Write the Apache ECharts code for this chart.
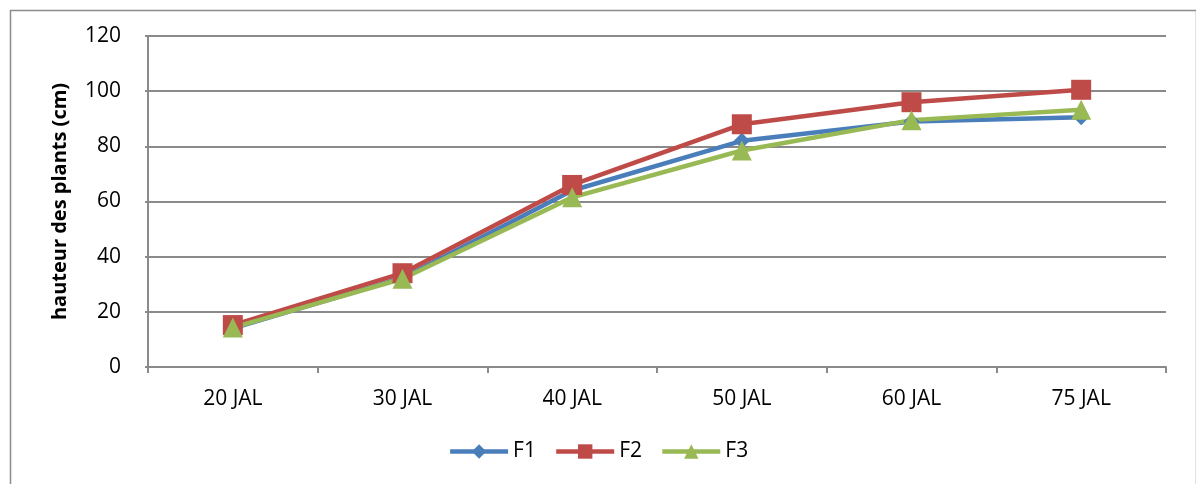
<!DOCTYPE html>
<html>
<head>
<meta charset="utf-8">
<script src="https://cdn.jsdelivr.net/npm/echarts@6/dist/echarts.min.js"></script>
<style>
  html, body { margin: 0; padding: 0; background: #fff; }
  #chart { width: 1196px; height: 484px; }
</style>
</head>
<body>
<div id="chart"></div>
<script>
// Plant height over time for three treatments
const categories = ['20 JAL', '30 JAL', '40 JAL', '50 JAL', '60 JAL', '75 JAL'];
const seriesF1 = [14, 32.3, 64, 82, 89, 90.5];
const seriesF2 = [15.2, 34, 66, 88, 96, 100.5];
const seriesF3 = [14.3, 32, 61.5, 78.5, 89.5, 93.3];
const yTicks = { min: 0, max: 120, interval: 20 };
const yAxisTitle = 'hauteur des plants (cm)';

const font = 'Open Sans, Liberation Sans, sans-serif';
const gridColor = '#8a8a8a';

const chart = echarts.init(document.getElementById('chart'), null, { renderer: 'canvas' });

function lineSeries(name, data, color, symbol, size) {
  return {
    name: name,
    type: 'line',
    data: data,
    symbol: symbol,
    symbolSize: size,
    showAllSymbol: true,
    lineStyle: { color: color, width: 4.5 },
    itemStyle: { color: color, borderWidth: 0 },
    emphasis: { disabled: true }
  };
}

chart.setOption({
  animation: false,
  backgroundColor: '#fff',
  graphic: [{
    type: 'rect',
    left: 8, top: 8,
    shape: { width: 1186, height: 490 },
    style: { fill: 'none', stroke: '#8c8c8c', lineWidth: 1.5 },
    silent: true,
    z: -1
  }],
  grid: { left: 148, right: 30, top: 36, bottom: 117 },
  legend: {
    bottom: 17,
    left: 'center',
    itemWidth: 58,
    itemHeight: 18,
    itemGap: 18,
    lineStyle: { width: 4.5 },
    textStyle: { fontFamily: font, fontSize: 21, color: '#000' },
    data: ['F1', 'F2', 'F3']
  },
  xAxis: {
    type: 'category',
    data: categories,
    boundaryGap: true,
    axisLine: { lineStyle: { color: gridColor, width: 2 } },
    axisTick: { show: true, length: 6, alignWithLabel: false, lineStyle: { color: gridColor, width: 2 } },
    axisLabel: { fontFamily: font, fontSize: 21, color: '#000', margin: 22 }
  },
  yAxis: {
    type: 'value',
    min: yTicks.min,
    max: yTicks.max,
    interval: yTicks.interval,
    name: yAxisTitle,
    nameLocation: 'middle',
    nameGap: 78,
    nameTextStyle: { fontFamily: font, fontSize: 20, fontWeight: 'bold', color: '#000' },
    axisLine: { show: true, lineStyle: { color: gridColor, width: 2 } },
    axisTick: { show: true, length: 3, lineStyle: { color: gridColor, width: 2 } },
    splitLine: { show: true, lineStyle: { color: gridColor, width: 2 } },
    axisLabel: { fontFamily: font, fontSize: 21, color: '#000', margin: 27 }
  },
  series: [
    lineSeries('F1', seriesF1, '#4a7ebb', 'diamond', 16),
    lineSeries('F2', seriesF2, '#be4b48', 'rect', 20),
    lineSeries('F3', seriesF3, '#98b954', 'triangle', 20)
  ]
});
</script>
</body>
</html>
